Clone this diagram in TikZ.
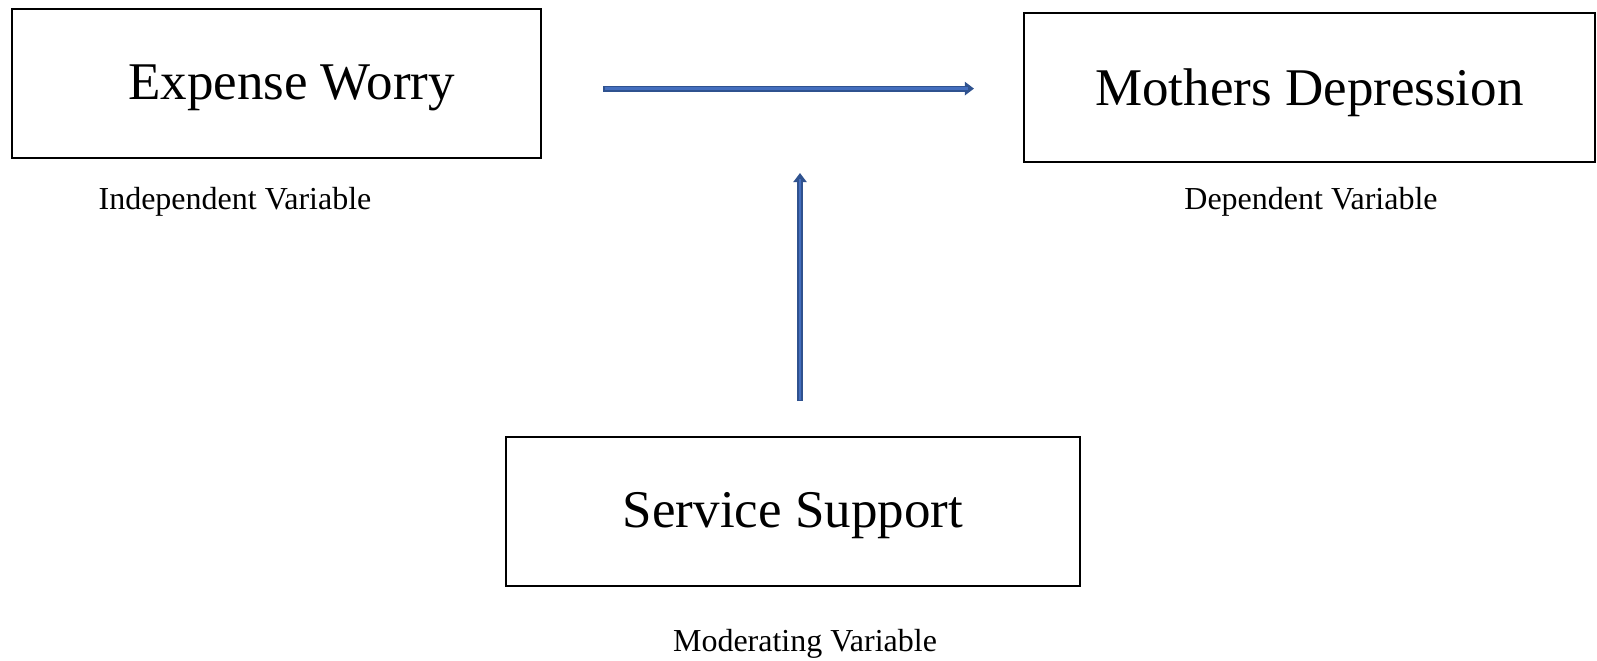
\documentclass[tikz,border=0pt]{standalone}
\usepackage{fontspec}
\setmainfont{Liberation Serif}
\usetikzlibrary{arrows.meta}
\definecolor{arrowout}{RGB}{47,82,143}
\definecolor{arrowin}{RGB}{68,110,190}
\newcommand{\lowertext}[2]{\raisebox{-#1}[\height][\depth]{#2}}
\tikzset{
  varbox/.style={draw=black, line width=0.7pt, minimum height=74.5pt, inner sep=0pt,
    font=\fontsize{26.5}{30}\selectfont},
  varlabel/.style={anchor=base, inner sep=0pt, font=\fontsize{16}{19}\selectfont},
  arrowouter/.style={draw=arrowout, line width=2.9pt, -{Triangle[width=6.6pt,length=4.6pt]}},
  arrowinner/.style={draw=arrowin, line width=1.4pt, shorten >=2.8pt, shorten <=0.75pt}
}
\begin{document}
\begin{tikzpicture}[x=0.5pt,y=-0.5pt]
\useasboundingbox (0,0) rectangle (1597,660);
\node[varbox, minimum width=264.5pt] (ew) at (276.6,83.6) {\lowertext{2pt}{\hspace*{15pt}Expense Worry}};
\node[varbox, minimum width=285.5pt] (md) at (1309.5,87.5) {\lowertext{2.5pt}{Mothers Depression}};
\node[varbox, minimum width=287pt] (ss) at (793,511.5) {\lowertext{2pt}{Service Support}};
\node[varlabel] (iv) at (235,209) {Independent Variable};
\node[varlabel] (dv) at (1311,209) {Dependent Variable};
\node[varlabel] (mv) at (805,651.5) {Moderating Variable};
\coordinate (h1) at (603,88.6);
\coordinate (h2) at (974,88.6);
\coordinate (v1) at (800,401);
\coordinate (v2) at (800,173);
\draw[arrowouter] (h1) -- (h2);
\draw[arrowinner] (h1) -- (h2);
\draw[arrowouter] (v1) -- (v2);
\draw[arrowinner] (v1) -- (v2);
\end{tikzpicture}
\end{document}
